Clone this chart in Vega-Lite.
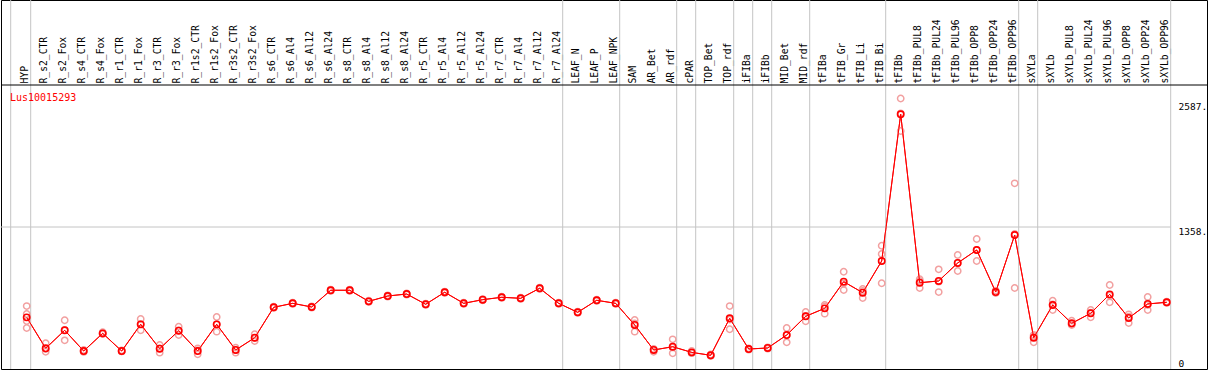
{
  "$schema": "https://vega.github.io/schema/vega-lite/v6.json",
  "width": 1206,
  "height": 369,
  "autosize": "none",
  "padding": {"left": 1, "top": 0, "right": 2, "bottom": 1},
  "background": "white",
  "config": {"view": {"stroke": "black", "strokeWidth": 1}},
  "title": {"text": "Lus10015293", "anchor": "start", "frame": "group", "orient": "top", "offset": -113, "dx": 9, "color": "#ff0000", "font": "DejaVu Sans Mono", "fontSize": 10, "fontWeight": "normal", "baseline": "bottom"},
  "datasets": {
    "means": [
      {"tissue": "HYP", "value": 494}, {"tissue": "R_s2_CTR", "value": 198}, {"tissue": "R_s2_Fox", "value": 370}, {"tissue": "R_s4_CTR", "value": 172}, {"tissue": "R_s4_Fox", "value": 341}, {"tissue": "R_r1_CTR", "value": 172}, {"tissue": "R_r1_Fox", "value": 427}, {"tissue": "R_r3_CTR", "value": 194}, {"tissue": "R_r3_Fox", "value": 366}, {"tissue": "R_r1s2_CTR", "value": 172}, {"tissue": "R_r1s2_Fox", "value": 427}, {"tissue": "R_r3s2_CTR", "value": 182}, {"tissue": "R_r3s2_Fox", "value": 299},
      {"tissue": "R_s6_CTR", "value": 590}, {"tissue": "R_s6_Al4", "value": 628}, {"tissue": "R_s6_Al12", "value": 593}, {"tissue": "R_s6_Al24", "value": 753}, {"tissue": "R_s8_CTR", "value": 753}, {"tissue": "R_s8_Al4", "value": 647}, {"tissue": "R_s8_Al12", "value": 698}, {"tissue": "R_s8_Al24", "value": 717}, {"tissue": "R_r5_CTR", "value": 619}, {"tissue": "R_r5_Al4", "value": 734}, {"tissue": "R_r5_Al12", "value": 628}, {"tissue": "R_r5_Al24", "value": 663}, {"tissue": "R_r7_CTR", "value": 686}, {"tissue": "R_r7_Al4", "value": 676}, {"tissue": "R_r7_Al12", "value": 772}, {"tissue": "R_r7_Al24", "value": 628},
      {"tissue": "LEAF_N", "value": 542}, {"tissue": "LEAF_P", "value": 657}, {"tissue": "LEAF_NPK", "value": 628}, {"tissue": "SAM", "value": 421}, {"tissue": "AR_Bet", "value": 182}, {"tissue": "AR_rdf", "value": 213}, {"tissue": "cPAR", "value": 159}, {"tissue": "TOP_Bet", "value": 131}, {"tissue": "TOP_rdf", "value": 485}, {"tissue": "iFIBa", "value": 191}, {"tissue": "iFIBb", "value": 201}, {"tissue": "MID_Bet", "value": 325}, {"tissue": "MID_rdf", "value": 504}, {"tissue": "tFIBa", "value": 580}, {"tissue": "tFIB_Gr", "value": 835}, {"tissue": "tFIB_Li", "value": 730}, {"tissue": "tFIB_Bi", "value": 1033},
      {"tissue": "tFIBb", "value": 2436}, {"tissue": "tFIBb_PUL8", "value": 825}, {"tissue": "tFIBb_PUL24", "value": 842}, {"tissue": "tFIBb_PUL96", "value": 1014}, {"tissue": "tFIBb_OPP8", "value": 1138}, {"tissue": "tFIBb_OPP24", "value": 736}, {"tissue": "tFIBb_OPP96", "value": 1281}, {"tissue": "sXYLa", "value": 299}, {"tissue": "sXYLb", "value": 612}, {"tissue": "sXYLb_PUL8", "value": 437}, {"tissue": "sXYLb_PUL24", "value": 533}, {"tissue": "sXYLb_PUL96", "value": 714}, {"tissue": "sXYLb_OPP8", "value": 488}, {"tissue": "sXYLb_OPP24", "value": 622}, {"tissue": "sXYLb_OPP96", "value": 638}
    ],
    "reps": [
      {"tissue": "HYP", "value": 602}, {"tissue": "HYP", "value": 526}, {"tissue": "HYP", "value": 459}, {"tissue": "HYP", "value": 392},
      {"tissue": "R_s2_CTR", "value": 246}, {"tissue": "R_s2_CTR", "value": 191}, {"tissue": "R_s2_CTR", "value": 165},
      {"tissue": "R_s2_Fox", "value": 466}, {"tissue": "R_s2_Fox", "value": 373}, {"tissue": "R_s2_Fox", "value": 274},
      {"tissue": "R_s4_CTR", "value": 182}, {"tissue": "R_s4_CTR", "value": 172}, {"tissue": "R_s4_CTR", "value": 163},
      {"tissue": "R_s4_Fox", "value": 352}, {"tissue": "R_s4_Fox", "value": 337}, {"tissue": "R_s4_Fox", "value": 335},
      {"tissue": "R_r1_CTR", "value": 178}, {"tissue": "R_r1_CTR", "value": 170}, {"tissue": "R_r1_CTR", "value": 168},
      {"tissue": "R_r1_Fox", "value": 478}, {"tissue": "R_r1_Fox", "value": 430}, {"tissue": "R_r1_Fox", "value": 370},
      {"tissue": "R_r3_CTR", "value": 230}, {"tissue": "R_r3_CTR", "value": 196}, {"tissue": "R_r3_CTR", "value": 156},
      {"tissue": "R_r3_Fox", "value": 405}, {"tissue": "R_r3_Fox", "value": 368}, {"tissue": "R_r3_Fox", "value": 325},
      {"tissue": "R_r1s2_CTR", "value": 198}, {"tissue": "R_r1s2_CTR", "value": 177}, {"tissue": "R_r1s2_CTR", "value": 141},
      {"tissue": "R_r1s2_Fox", "value": 497}, {"tissue": "R_r1s2_Fox", "value": 427}, {"tissue": "R_r1s2_Fox", "value": 357},
      {"tissue": "R_r3s2_CTR", "value": 204}, {"tissue": "R_r3s2_CTR", "value": 182}, {"tissue": "R_r3s2_CTR", "value": 156},
      {"tissue": "R_r3s2_Fox", "value": 332}, {"tissue": "R_r3s2_Fox", "value": 296}, {"tissue": "R_r3s2_Fox", "value": 268},
      {"tissue": "R_s6_CTR", "value": 596}, {"tissue": "R_s6_CTR", "value": 590}, {"tissue": "R_s6_CTR", "value": 584},
      {"tissue": "R_s6_Al4", "value": 634}, {"tissue": "R_s6_Al4", "value": 628}, {"tissue": "R_s6_Al4", "value": 622},
      {"tissue": "R_s6_Al12", "value": 599}, {"tissue": "R_s6_Al12", "value": 593}, {"tissue": "R_s6_Al12", "value": 587},
      {"tissue": "R_s6_Al24", "value": 759}, {"tissue": "R_s6_Al24", "value": 753}, {"tissue": "R_s6_Al24", "value": 747},
      {"tissue": "R_s8_CTR", "value": 759}, {"tissue": "R_s8_CTR", "value": 753}, {"tissue": "R_s8_CTR", "value": 747},
      {"tissue": "R_s8_Al4", "value": 653}, {"tissue": "R_s8_Al4", "value": 647}, {"tissue": "R_s8_Al4", "value": 641},
      {"tissue": "R_s8_Al12", "value": 704}, {"tissue": "R_s8_Al12", "value": 698}, {"tissue": "R_s8_Al12", "value": 692},
      {"tissue": "R_s8_Al24", "value": 723}, {"tissue": "R_s8_Al24", "value": 717}, {"tissue": "R_s8_Al24", "value": 711},
      {"tissue": "R_r5_CTR", "value": 625}, {"tissue": "R_r5_CTR", "value": 619}, {"tissue": "R_r5_CTR", "value": 613},
      {"tissue": "R_r5_Al4", "value": 740}, {"tissue": "R_r5_Al4", "value": 734}, {"tissue": "R_r5_Al4", "value": 728},
      {"tissue": "R_r5_Al12", "value": 634}, {"tissue": "R_r5_Al12", "value": 628}, {"tissue": "R_r5_Al12", "value": 622},
      {"tissue": "R_r5_Al24", "value": 669}, {"tissue": "R_r5_Al24", "value": 663}, {"tissue": "R_r5_Al24", "value": 657},
      {"tissue": "R_r7_CTR", "value": 692}, {"tissue": "R_r7_CTR", "value": 686}, {"tissue": "R_r7_CTR", "value": 680},
      {"tissue": "R_r7_Al4", "value": 682}, {"tissue": "R_r7_Al4", "value": 676}, {"tissue": "R_r7_Al4", "value": 670},
      {"tissue": "R_r7_Al12", "value": 778}, {"tissue": "R_r7_Al12", "value": 772}, {"tissue": "R_r7_Al12", "value": 766},
      {"tissue": "R_r7_Al24", "value": 634}, {"tissue": "R_r7_Al24", "value": 628}, {"tissue": "R_r7_Al24", "value": 622},
      {"tissue": "LEAF_N", "value": 548}, {"tissue": "LEAF_N", "value": 542}, {"tissue": "LEAF_N", "value": 536},
      {"tissue": "LEAF_P", "value": 663}, {"tissue": "LEAF_P", "value": 657}, {"tissue": "LEAF_P", "value": 651},
      {"tissue": "LEAF_NPK", "value": 634}, {"tissue": "LEAF_NPK", "value": 628}, {"tissue": "LEAF_NPK", "value": 622},
      {"tissue": "SAM", "value": 469}, {"tissue": "SAM", "value": 435}, {"tissue": "SAM", "value": 357},
      {"tissue": "AR_Bet", "value": 191}, {"tissue": "AR_Bet", "value": 186}, {"tissue": "AR_Bet", "value": 165},
      {"tissue": "AR_rdf", "value": 284}, {"tissue": "AR_rdf", "value": 206}, {"tissue": "AR_rdf", "value": 150},
      {"tissue": "cPAR", "value": 172}, {"tissue": "cPAR", "value": 153}, {"tissue": "cPAR", "value": 151},
      {"tissue": "TOP_Bet", "value": 139}, {"tissue": "TOP_Bet", "value": 129}, {"tissue": "TOP_Bet", "value": 124},
      {"tissue": "TOP_rdf", "value": 602}, {"tissue": "TOP_rdf", "value": 473}, {"tissue": "TOP_rdf", "value": 380},
      {"tissue": "iFIBa", "value": 197}, {"tissue": "iFIBa", "value": 191}, {"tissue": "iFIBa", "value": 185},
      {"tissue": "iFIBb", "value": 207}, {"tissue": "iFIBb", "value": 201}, {"tissue": "iFIBb", "value": 195},
      {"tissue": "MID_Bet", "value": 392}, {"tissue": "MID_Bet", "value": 325}, {"tissue": "MID_Bet", "value": 255},
      {"tissue": "MID_rdf", "value": 545}, {"tissue": "MID_rdf", "value": 507}, {"tissue": "MID_rdf", "value": 456},
      {"tissue": "tFIBa", "value": 612}, {"tissue": "tFIBa", "value": 598}, {"tissue": "tFIBa", "value": 529},
      {"tissue": "tFIB_Gr", "value": 930}, {"tissue": "tFIB_Gr", "value": 818}, {"tissue": "tFIB_Gr", "value": 755},
      {"tissue": "tFIB_Li", "value": 765}, {"tissue": "tFIB_Li", "value": 746}, {"tissue": "tFIB_Li", "value": 679},
      {"tissue": "tFIB_Bi", "value": 1179}, {"tissue": "tFIB_Bi", "value": 1100}, {"tissue": "tFIB_Bi", "value": 820},
      {"tissue": "tFIBb", "value": 2587}, {"tissue": "tFIBb", "value": 2445}, {"tissue": "tFIBb", "value": 2276},
      {"tissue": "tFIBb_PUL8", "value": 858}, {"tissue": "tFIBb_PUL8", "value": 842}, {"tissue": "tFIBb_PUL8", "value": 775},
      {"tissue": "tFIBb_PUL24", "value": 953}, {"tissue": "tFIBb_PUL24", "value": 835}, {"tissue": "tFIBb_PUL24", "value": 736},
      {"tissue": "tFIBb_PUL96", "value": 1090}, {"tissue": "tFIBb_PUL96", "value": 1014}, {"tissue": "tFIBb_PUL96", "value": 937},
      {"tissue": "tFIBb_OPP8", "value": 1243}, {"tissue": "tFIBb_OPP8", "value": 1138}, {"tissue": "tFIBb_OPP8", "value": 1033},
      {"tissue": "tFIBb_OPP24", "value": 750}, {"tissue": "tFIBb_OPP24", "value": 732}, {"tissue": "tFIBb_OPP24", "value": 727},
      {"tissue": "tFIBb_OPP96", "value": 1776}, {"tissue": "tFIBb_OPP96", "value": 1292}, {"tissue": "tFIBb_OPP96", "value": 775},
      {"tissue": "sXYLa", "value": 325}, {"tissue": "sXYLa", "value": 316}, {"tissue": "sXYLa", "value": 255},
      {"tissue": "sXYLb", "value": 653}, {"tissue": "sXYLb", "value": 617}, {"tissue": "sXYLb", "value": 564},
      {"tissue": "sXYLb_PUL8", "value": 462}, {"tissue": "sXYLb_PUL8", "value": 426}, {"tissue": "sXYLb_PUL8", "value": 421},
      {"tissue": "sXYLb_PUL24", "value": 564}, {"tissue": "sXYLb_PUL24", "value": 539}, {"tissue": "sXYLb_PUL24", "value": 494},
      {"tissue": "sXYLb_PUL96", "value": 803}, {"tissue": "sXYLb_PUL96", "value": 703}, {"tissue": "sXYLb_PUL96", "value": 638},
      {"tissue": "sXYLb_OPP8", "value": 523}, {"tissue": "sXYLb_OPP8", "value": 500}, {"tissue": "sXYLb_OPP8", "value": 440},
      {"tissue": "sXYLb_OPP24", "value": 689}, {"tissue": "sXYLb_OPP24", "value": 612}, {"tissue": "sXYLb_OPP24", "value": 564},
      {"tissue": "sXYLb_OPP96", "value": 644}, {"tissue": "sXYLb_OPP96", "value": 638}, {"tissue": "sXYLb_OPP96", "value": 632}
    ],
    "seps": [
      {"tissue": "HYP"}, {"tissue": "R_r7_Al24"}, {"tissue": "LEAF_NPK"}, {"tissue": "AR_rdf"}, {"tissue": "cPAR"}, {"tissue": "TOP_rdf"}, {"tissue": "iFIBa"}, {"tissue": "iFIBb"}, {"tissue": "MID_rdf"}, {"tissue": "tFIB_Bi"}, {"tissue": "tFIBb_OPP96"}, {"tissue": "sXYLa"}, {"tissue": "sXYLb_OPP96"}
    ]
  },
  "layer": [
    {
      "data": {"name": "means"},
      "mark": {"type": "line", "color": "#ff0000", "strokeWidth": 1},
      "encoding": {
        "x": {
          "field": "tissue", "type": "nominal", "sort": null,
          "scale": {"type": "point", "padding": 0, "range": [25.7, 1165.7], "domain": ["HYP","R_s2_CTR","R_s2_Fox","R_s4_CTR","R_s4_Fox","R_r1_CTR","R_r1_Fox","R_r3_CTR","R_r3_Fox","R_r1s2_CTR","R_r1s2_Fox","R_r3s2_CTR","R_r3s2_Fox","R_s6_CTR","R_s6_Al4","R_s6_Al12","R_s6_Al24","R_s8_CTR","R_s8_Al4","R_s8_Al12","R_s8_Al24","R_r5_CTR","R_r5_Al4","R_r5_Al12","R_r5_Al24","R_r7_CTR","R_r7_Al4","R_r7_Al12","R_r7_Al24","LEAF_N","LEAF_P","LEAF_NPK","SAM","AR_Bet","AR_rdf","cPAR","TOP_Bet","TOP_rdf","iFIBa","iFIBb","MID_Bet","MID_rdf","tFIBa","tFIB_Gr","tFIB_Li","tFIB_Bi","tFIBb","tFIBb_PUL8","tFIBb_PUL24","tFIBb_PUL96","tFIBb_OPP8","tFIBb_OPP24","tFIBb_OPP96","sXYLa","sXYLb","sXYLb_PUL8","sXYLb_PUL24","sXYLb_PUL96","sXYLb_OPP8","sXYLb_OPP24","sXYLb_OPP96"]},
          "axis": {"orient": "top", "offset": -85, "title": null, "domain": false, "ticks": false, "tickSize": 0, "grid": false, "labelAngle": 270, "labelAlign": "left", "labelBaseline": "middle", "labelPadding": 2, "labelOffset": -2, "labelFont": "DejaVu Sans Mono", "labelFontSize": 9.7, "labelColor": "black", "labelOverlap": false, "labelLimit": 0}
        },
        "y": {
          "field": "value", "type": "quantitative",
          "scale": {"domain": [0, 3529], "nice": false, "zero": true},
          "axis": {"orient": "right", "offset": -29, "title": null, "domain": false, "ticks": false, "tickSize": 0, "grid": false, "values": [0, 1358, 2587], "format": "d", "labelExpr": "datum.value == 0 ? '0' : datum.label + '.'", "labelAlign": "left", "labelPadding": 0, "labelBaseline": {"condition": {"test": "datum.value == 0", "value": "bottom"}, "value": "top"}, "labelOffset": {"condition": {"test": "datum.value == 2587", "value": 3}, "value": -1}, "labelFont": "DejaVu Sans Mono", "labelFontSize": 9.5, "labelColor": "black"}
        }
      }
    },
    {
      "data": {"name": "seps"},
      "mark": {"type": "rule", "color": "#c4c4c4", "strokeWidth": 1, "xOffset": 4},
      "encoding": {"x": {"field": "tissue", "type": "nominal"}}
    },
    {
      "data": {"values": [{}]},
      "mark": {"type": "rule", "color": "#c4c4c4", "strokeWidth": 1, "xOffset": -16},
      "encoding": {"x": {"datum": "HYP", "type": "nominal"}}
    },
    {
      "data": {"values": [{}]},
      "mark": {"type": "rule", "color": "#c4c4c4", "strokeWidth": 1, "xOffset": -26, "x2Offset": 4},
      "encoding": {"x": {"datum": "HYP", "type": "nominal"}, "x2": {"datum": "sXYLb_OPP96"}, "y": {"datum": 1358, "type": "quantitative"}}
    },
    {
      "data": {"values": [{}]},
      "mark": {"type": "rule", "color": "black", "strokeWidth": 1},
      "encoding": {"y": {"datum": 2716, "type": "quantitative"}}
    },
    {
      "data": {"name": "reps"},
      "mark": {"type": "point", "shape": "circle", "filled": false, "color": "#f2a0a0", "size": 40, "strokeWidth": 1.5, "opacity": 1},
      "encoding": {"x": {"field": "tissue", "type": "nominal"}, "y": {"field": "value", "type": "quantitative"}}
    },
    {
      "data": {"name": "means"},
      "mark": {"type": "line", "color": "#ff0000", "strokeWidth": 1},
      "encoding": {"x": {"field": "tissue", "type": "nominal"}, "y": {"field": "value", "type": "quantitative"}}
    },
    {
      "data": {"name": "means"},
      "mark": {"type": "point", "shape": "circle", "filled": false, "color": "#ff0000", "size": 40, "strokeWidth": 1.6, "opacity": 1},
      "encoding": {"x": {"field": "tissue", "type": "nominal"}, "y": {"field": "value", "type": "quantitative"}}
    }
  ]
}
